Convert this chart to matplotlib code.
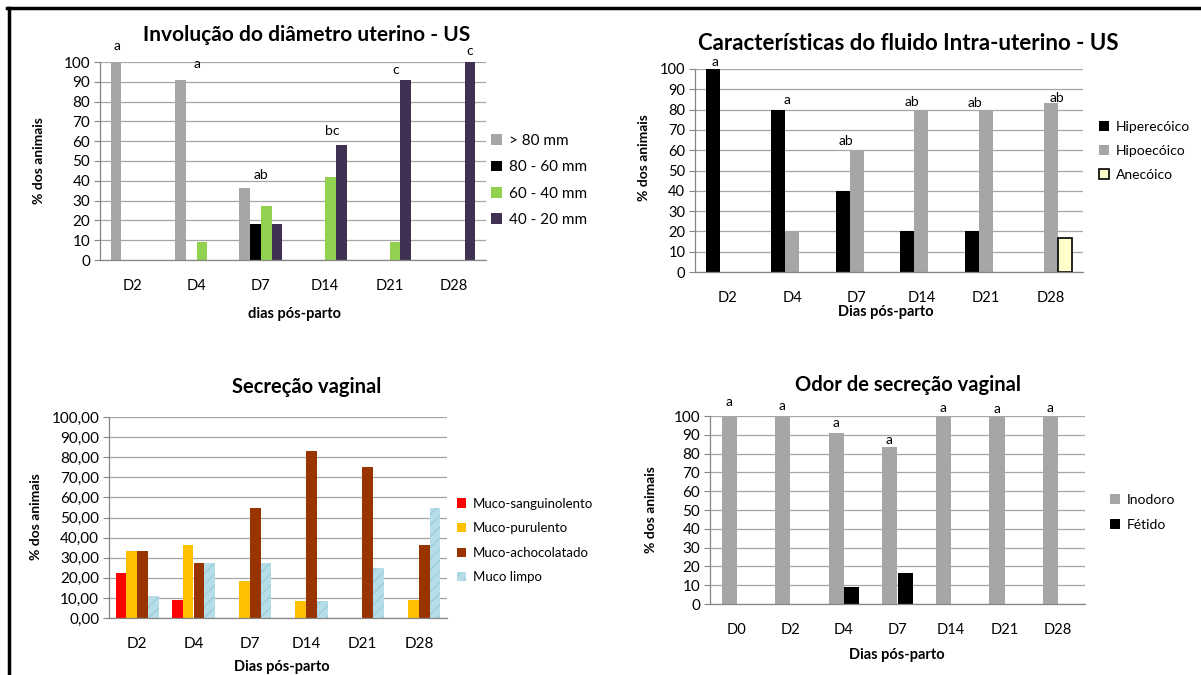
import numpy as np
import matplotlib.pyplot as plt
from matplotlib.lines import Line2D

plt.rcParams['font.family'] = ['Lato', 'DejaVu Sans']
plt.rcParams['hatch.linewidth'] = 1.2

W, H = 1201, 675

# 1 Involucao do diametro uterino
dias1 = ['D2', 'D4', 'D7', 'D14', 'D21', 'D28']
series1 = ['> 80 mm', '80 - 60 mm', '60 - 40 mm', '40 - 20 mm']
acima80 = [100, 90.9, 36.4, 0, 0, 0]
de80a60 = [0, 0, 18.2, 0, 0, 0]
de60a40 = [0, 9.1, 27.3, 41.7, 9.1, 0]
de40a20 = [0, 0, 18.2, 58.3, 90.9, 100]
letras1 = ['a', 'a', 'ab', 'bc', 'c', 'c']

# 2 Caracteristicas do fluido
dias2 = ['D2', 'D4', 'D7', 'D14', 'D21', 'D28']
series2 = ['Hiperecóico', 'Hipoecóico', 'Anecóico']
hiperecoico = [100, 80, 40, 20, 20, 0]
hipoecoico = [0, 20, 60, 80, 80, 83.3]
anecoico = [0, 0, 0, 0, 0, 16.7]
letras2 = ['a', 'a', 'ab', 'ab', 'ab', 'ab']

# 3 Secrecao vaginal
dias3 = ['D2', 'D4', 'D7', 'D14', 'D21', 'D28']
series3 = ['Muco-sanguinolento', 'Muco-purulento', 'Muco-achocolatado', 'Muco limpo']
sanguinolento = [22.2, 9.1, 0, 0, 0, 0]
purulento = [33.3, 36.4, 18.2, 8.3, 0, 9.1]
achocolatado = [33.3, 27.3, 54.5, 83.3, 75.0, 36.4]
limpo = [11.1, 27.3, 27.3, 8.3, 25.0, 54.5]

# 4 Odor
dias4 = ['D0', 'D2', 'D4', 'D7', 'D14', 'D21', 'D28']
series4 = ['Inodoro', 'Fétido']
inodoro = [100, 100, 90.9, 83.3, 100, 100, 100]
fetido = [0, 0, 9.1, 16.7, 0, 0, 0]
letras4 = ['a'] * 7


def px_axes(fig, x0, y0, x1, y1):
    # pixel box (top-left origin) -> figure axes
    return fig.add_axes([x0 / W, 1 - y1 / H, (x1 - x0) / W, (y1 - y0) / H])


def style(ax, cats, ysize, xsize, pad, fmt=None):
    ax.set_xlim(-0.5, len(cats) - 0.5)
    ax.set_ylim(0, 100)
    ax.set_yticks(np.arange(0, 101, 10))
    if fmt:
        ax.set_yticklabels([fmt % v for v in np.arange(0, 101, 10)])
    ax.set_xticks(np.arange(len(cats)))
    ax.set_xticklabels(cats)
    ax.tick_params(axis='x', length=0, pad=pad, labelsize=xsize, colors='#000000')
    ax.tick_params(axis='y', length=4, width=0.8, color='#868686', labelsize=ysize, pad=3)
    ax.grid(axis='y', color='#A6A6A6', linewidth=0.9)
    ax.set_axisbelow(True)
    for s in ['top', 'right']:
        ax.spines[s].set_visible(False)
    for s in ['left', 'bottom']:
        ax.spines[s].set_color('#868686')
        ax.spines[s].set_linewidth(0.9)


def legenda(ax, xpx, ypx, size, spacing):
    leg = ax.legend(loc='center left', bbox_to_anchor=(xpx / W, 1 - ypx / H),
                    bbox_transform=fig.transFigure, frameon=False, fontsize=size,
                    handlelength=0.7, handleheight=0.7, handletextpad=0.5,
                    labelspacing=spacing, borderpad=0, borderaxespad=0)
    return leg


fig = plt.figure(figsize=(W / 100, H / 100), dpi=100)

# ---- chart 1
ax1 = px_axes(fig, 100, 62, 486, 260)
x = np.arange(len(dias1))
bw = 0.166
cores1 = ['#A6A6A6', '#000000', '#92D050', '#403152']
for k, (vals, cor) in enumerate(zip([acima80, de80a60, de60a40, de40a20], cores1)):
    ax1.bar(x + (k - 1.5) * bw, vals, bw, color=cor, label=series1[k])
style(ax1, dias1, 11, 10.5, 14)
pos1 = [(-0.24, 108), (0, 99), (0, 43), (0.11, 65), (0.09, 96), (0.24, 105.5)]
for i, (dx, yy) in enumerate(pos1):
    ax1.text(i + dx, yy, letras1[i], ha='center', va='center', fontsize=10, clip_on=False)
legenda(ax1, 491, 180.5, 11, 0.8)

# ---- chart 2
ax2 = px_axes(fig, 695, 69, 1083, 272)
x = np.arange(len(dias2))
bw = 0.216
ax2.bar(x - bw, hiperecoico, bw, color='#000000', label=series2[0])
ax2.bar(x, hipoecoico, bw, color='#A6A6A6', label=series2[1])
ax2.bar(x + bw, anecoico, bw, color='#FFFFCC', edgecolor='#000000',
        linewidth=[1.2 if v > 0 else 0 for v in anecoico], label=series2[2])
style(ax2, dias2, 10.5, 10.5, 14)
pos2 = [(-0.19, 103.5), (-0.07, 84.7), (-0.17, 64.5), (-0.14, 83.7), (-0.17, 83.3), (0.1, 85.7)]
for i, (dx, yy) in enumerate(pos2):
    ax2.text(i + dx, yy, letras2[i], ha='center', va='center', fontsize=10, clip_on=False)
leg2 = legenda(ax2, 1099, 151, 10, 0.85)
leg2.legend_handles[2].set_edgecolor('#000000')
leg2.legend_handles[2].set_linewidth(1.2)

# ---- chart 3
ax3 = px_axes(fig, 109, 417, 447, 618)
x = np.arange(len(dias3))
bw = 0.19
ax3.bar(x - 1.5 * bw, sanguinolento, bw, color='#FF0000', label=series3[0])
ax3.bar(x - 0.5 * bw, purulento, bw, color='#FFC000', label=series3[1])
ax3.bar(x + 0.5 * bw, achocolatado, bw, color='#993300', label=series3[2])
ax3.bar(x + 1.5 * bw, limpo, bw, color='#B7DEE8', edgecolor='#9FD0DF', linewidth=0,
        hatch='///', label=series3[3])
style(ax3, dias3, 11, 11, 14, fmt='%d,00')
legenda(ax3, 457, 540.5, 9.5, 0.95)

# ---- chart 4
ax4 = px_axes(fig, 710, 416, 1085, 604)
x = np.arange(len(dias4))
bw = 0.285
ax4.bar(x - bw / 2, inodoro, bw, color='#A6A6A6', label=series4[0])
ax4.bar(x + bw / 2, fetido, bw, color='#000000', label=series4[1])
style(ax4, dias4, 11, 10.5, 14)
pos4 = [107.6, 105.5, 96.4, 87.2, 104, 103.5, 104]
for i, yy in enumerate(pos4):
    ax4.text(i - 0.15, yy, letras4[i], ha='center', va='center', fontsize=10, clip_on=False)
legenda(ax4, 1110, 512.5, 10, 0.95)

# titles and axis labels
titulos = [(307, 35, 'Involução do diâmetro uterino - US', 15),
           (908, 43, 'Características do fluido Intra-uterino - US', 16),
           (307, 387, 'Secreção vaginal', 14.5),
           (908, 385, 'Odor de secreção vaginal', 14.5)]
for xp, yp, t, s in titulos:
    fig.text(xp / W, 1 - yp / H, t, ha='center', va='center', fontsize=s, fontweight='bold')

xlabels = [(294, 314, 'dias pós-parto'), (886, 312, 'Dias pós-parto'),
           (282, 667, 'Dias pós-parto'), (897, 655, 'Dias pós-parto')]
for xp, yp, t in xlabels:
    fig.text(xp / W, 1 - yp / H, t, ha='center', va='center', fontsize=10.5, fontweight='bold')

for xp, yp in [(39, 161), (644, 158), (36, 517), (651, 510)]:
    fig.text(xp / W, 1 - yp / H, '% dos animais', ha='center', va='center', rotation=90,
             fontsize=10, fontweight='bold')

# black frame (top and left edges)
fig.add_artist(Line2D([7 / W, 1], [1 - 8 / H, 1 - 8 / H], color='black', linewidth=2.5,
                      transform=fig.transFigure))
fig.add_artist(Line2D([9 / W, 9 / W], [0, 1 - 8 / H], color='black', linewidth=2.5,
                      transform=fig.transFigure))

fig.savefig('out.png', dpi=100)
